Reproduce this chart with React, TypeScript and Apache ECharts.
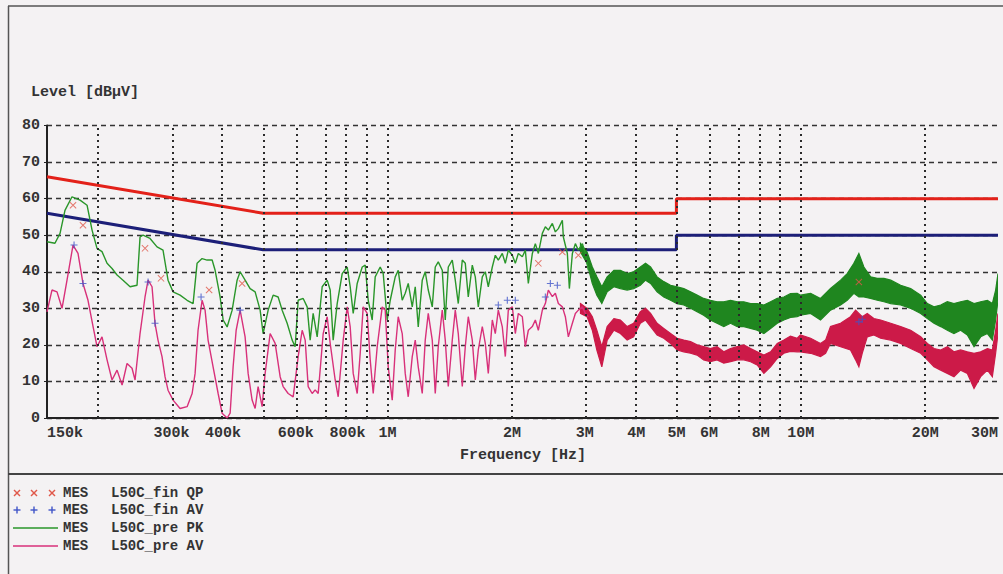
import React, { useEffect, useRef } from 'react';
import * as echarts from 'echarts';

// ---------- data (frequencies in kHz, levels in dBµV) ----------
const TICK_FREQS = [150, 300, 400, 600, 800, 1000, 2000, 3000, 4000, 5000, 6000, 8000, 10000, 20000, 30000];
const TICK_LABELS = ['150k', '300k', '400k', '600k', '800k', '1M', '2M', '3M', '4M', '5M', '6M', '8M', '10M', '20M', '30M'];
const GRID_FREQS = [200, 300, 400, 500, 600, 700, 800, 900, 1000, 2000, 3000, 4000, 5000, 6000, 7000, 8000, 9000, 10000, 20000, 30000];

const LIMIT_QP = [[150, 66], [500, 56], [5000, 56], [5000, 60], [30000, 60]];
const LIMIT_AV = [[150, 56], [500, 46], [5000, 46], [5000, 50], [30000, 50]];

const PK_PRE = [
  [150, 48.2], [156.8, 47.8], [161.3, 50.5], [165.8, 56.8], [172.4, 60.5], [180.3, 59.6], [187.5, 58.2], [192.8, 51.4],
  [198.2, 46.4], [203.8, 45.5], [209.6, 42.3], [215.5, 40.9], [221.6, 39.1], [229.1, 37.7], [238.3, 35.9], [247.7, 36.3],
  [251.9, 49.5], [256.1, 50.0], [266.3, 49.1], [276.9, 46.8], [286.3, 45.9], [294.4, 37.7], [302.8, 34.5], [314.8, 33.6],
  [327.4, 32.2], [338.5, 31.3], [346.1, 42.3], [355.9, 43.6], [366.0, 43.2], [376.4, 43.2], [382.7, 40.4], [393.5, 33.1],
  [400.2, 26.8], [409.2, 24.9], [420.8, 29.5], [432.6, 37.7], [439.9, 40.0], [452.3, 37.7], [465.1, 35.4], [478.3, 34.5],
  [491.8, 29.5], [500.1, 23.1], [514.3, 29.5], [528.8, 33.6], [543.7, 33.1], [556.0, 29.5], [571.7, 25.9], [587.9, 21.3],
  [597.8, 19.5], [607.9, 32.2], [625.1, 32.7], [639.1, 30.4], [649.9, 21.3], [660.8, 28.6], [675.8, 22.2], [694.9, 35.9],
  [714.5, 37.7], [726.6, 35.0], [738.8, 21.3], [755.5, 31.3], [776.9, 39.5], [798.8, 41.3], [812.3, 35.9], [826.0, 28.6],
  [844.6, 36.8], [868.5, 41.3], [883.1, 41.8], [898.0, 32.2], [918.2, 26.8], [933.7, 38.6], [960.1, 41.3], [976.3, 39.5],
  [998.4, 26.8], [1015.3, 32.2], [1043.9, 38.6], [1061.5, 40.4], [1085.4, 32.2], [1103.7, 34.1], [1122.3, 36.8], [1147.7, 30.4],
  [1167.0, 35.9], [1186.7, 24.9], [1213.5, 37.7], [1233.9, 40.0], [1254.8, 35.0], [1283.1, 30.4], [1304.7, 41.3], [1326.7, 42.7],
  [1356.6, 40.4], [1379.5, 26.8], [1402.8, 41.3], [1434.5, 43.2], [1458.6, 37.7], [1483.2, 31.3], [1516.7, 43.2], [1542.3, 42.3],
  [1568.2, 33.1], [1603.6, 41.8], [1630.6, 38.6], [1658.2, 30.4], [1695.6, 38.6], [1724.2, 40.0], [1753.2, 35.9], [1792.8, 41.3],
  [1823.0, 44.5], [1853.8, 43.2], [1895.6, 45.0], [1927.6, 42.3], [1960.1, 45.9], [2004.3, 44.5], [2038.1, 42.3], [2072.5, 45.0],
  [2119.3, 44.1], [2155.0, 45.9], [2191.4, 36.8], [2240.8, 45.0], [2278.6, 47.7], [2317.0, 45.0], [2369.2, 50.5], [2409.2, 52.3],
  [2449.8, 51.4], [2505.1, 53.2], [2547.3, 50.9], [2590.3, 51.8], [2648.7, 54.1], [2663.5, 49.5], [2723.6, 45.0], [2754.1, 35.4],
  [2800.6, 45.0], [2847.8, 47.7], [2895.9, 45.9], [2961.3, 47.7], [3011.2, 45.0], [3061.9, 40.4],
];

const AV_PRE = [
  [150, 29.0], [154.2, 35.0], [158.6, 34.5], [163.1, 30.0], [167.7, 37.7], [173.4, 47.3], [178.3, 45.0], [183.3, 36.8],
  [188.5, 32.2], [193.9, 25.0], [198.2, 19.5], [203.8, 22.2], [209.6, 15.9], [215.5, 10.4], [221.6, 13.1], [227.9, 9.0],
  [234.3, 14.9], [240.9, 13.6], [245.0, 10.4], [251.9, 23.1], [259.0, 33.1], [263.4, 37.7], [269.3, 35.9], [273.8, 25.9],
  [278.4, 21.3], [284.7, 16.8], [289.5, 11.3], [294.4, 7.6], [302.8, 4.9], [314.8, 2.6], [327.4, 3.1], [336.7, 6.7],
  [342.3, 12.2], [348.0, 24.0], [355.9, 32.2], [361.9, 29.5], [368.0, 21.3], [378.4, 14.0], [389.2, 6.7], [397.9, 1.3],
  [409.2, 0], [416.1, 1.3], [423.1, 14.0], [430.3, 24.0], [439.9, 29.5], [452.3, 22.2], [460.0, 12.2], [470.3, 4.9],
  [478.3, 2.6], [486.3, 8.6], [497.3, 3.1], [505.7, 12.2], [520.0, 23.1], [534.7, 20.4], [549.8, 11.3], [559.1, 8.6],
  [574.9, 6.7], [591.2, 5.8], [607.9, 16.8], [621.6, 24.0], [632.1, 21.3], [642.7, 8.6], [657.2, 6.7], [668.2, 7.7],
  [679.6, 6.7], [698.8, 23.1], [714.5, 27.7], [726.6, 20.4], [747.1, 10.4], [759.7, 5.8], [781.2, 21.3], [798.8, 30.4],
  [812.3, 24.9], [826.0, 12.2], [844.6, 6.7], [858.9, 17.7], [873.3, 30.4], [893.0, 28.6], [908.1, 15.9], [923.4, 6.7],
  [944.2, 19.5], [970.9, 30.4], [987.3, 29.5], [1004.0, 14.0], [1026.6, 4.9], [1043.9, 18.6], [1061.5, 27.7], [1085.4, 23.1],
  [1103.7, 12.2], [1122.3, 5.8], [1147.7, 16.8], [1167.0, 21.3], [1186.7, 14.0], [1213.5, 6.7], [1233.9, 21.3], [1254.8, 28.6],
  [1283.1, 21.3], [1304.7, 6.7], [1326.7, 19.5], [1356.6, 29.5], [1379.5, 21.3], [1402.8, 8.6], [1434.5, 21.3], [1458.6, 29.5],
  [1483.2, 23.1], [1516.7, 8.6], [1542.3, 19.5], [1568.2, 27.7], [1603.6, 21.3], [1630.6, 10.4], [1658.2, 18.6], [1695.6, 25.0],
  [1724.2, 20.4], [1753.2, 12.2], [1792.8, 26.8], [1823.0, 23.1], [1853.8, 29.5], [1895.6, 24.9], [1927.6, 16.8], [1960.1, 29.5],
  [2004.3, 30.4], [2038.1, 23.1], [2072.5, 28.6], [2119.3, 27.7], [2155.0, 19.5], [2191.4, 24.0], [2240.8, 25.0], [2278.6, 26.8],
  [2317.0, 24.0], [2369.2, 29.5], [2409.2, 31.3], [2449.8, 35.0], [2505.1, 33.2], [2547.3, 34.1], [2590.3, 31.3], [2648.7, 30.4],
  [2693.4, 27.7], [2738.8, 22.2], [2800.6, 25.9], [2847.8, 28.6], [2895.9, 29.5], [2961.3, 30.4], [3011.2, 28.6], [3061.9, 27.7],
];

// noisy high-frequency part: [kHz, upper dB, lower dB]
const PK_BAND = [
  [2930, 47.7, 45.4], [3040, 45.4, 42.3], [3130, 41.3, 36.8], [3210, 38.6, 33.6], [3300, 35.9, 31.3], [3400, 38.6, 34.5],
  [3530, 40.4, 35.9], [3660, 40.4, 35.4], [3800, 39.5, 35.0], [3940, 40.0, 35.4], [4090, 41.3, 36.3], [4210, 42.3, 37.7],
  [4330, 41.3, 36.8], [4490, 38.6, 34.5], [4660, 37.3, 33.1], [4840, 36.3, 32.2], [5020, 35.9, 31.3], [5210, 35.4, 30.9],
  [5410, 34.5, 30.0], [5610, 33.6, 29.1], [5820, 32.7, 28.1], [6040, 32.2, 26.8], [6270, 31.8, 25.9], [6510, 31.8, 25.0],
  [6760, 32.2, 25.9], [7020, 31.8, 25.0], [7280, 31.8, 25.0], [7560, 31.3, 24.5], [7840, 31.3, 24.0], [8140, 30.9, 23.1],
  [8450, 31.8, 24.5], [8770, 32.7, 25.9], [9100, 33.1, 26.8], [9440, 34.0, 27.5], [9800, 34.1, 27.7], [9980, 33.6, 28.1],
  [10560, 34.1, 28.6], [11160, 32.7, 26.8], [11800, 35.4, 29.5], [12480, 37.7, 30.9], [12950, 39.5, 32.2], [13440, 42.3, 34.1],
  [13820, 45.0, 33.1], [14210, 41.3, 33.1], [14750, 38.6, 32.7], [15310, 38.2, 32.2], [15890, 38.2, 31.8], [16500, 37.7, 31.3],
  [17440, 36.3, 30.9], [18440, 35.4, 30.0], [19500, 33.6, 28.6], [20240, 31.3, 27.2], [21000, 30.4, 25.9], [21800, 30.9, 25.0],
  [22620, 31.8, 24.0], [23470, 31.3, 23.1], [24360, 31.8, 24.0], [25290, 32.2, 22.7], [26250, 31.3, 19.5], [27240, 31.8, 22.2],
  [28280, 32.2, 23.1], [29070, 31.3, 21.3], [29610, 35.0, 26.8], [30000, 39.5, 32.2],
];

const AV_BAND = [
  [2930, 31.3, 28.6], [3040, 30.0, 27.7], [3130, 27.7, 24.0], [3210, 24.0, 18.6], [3300, 19.5, 14.0], [3400, 25.0, 21.3],
  [3530, 27.2, 24.0], [3660, 26.8, 23.1], [3800, 25.0, 21.3], [3940, 25.9, 22.2], [4090, 29.1, 25.9], [4210, 30.0, 26.8],
  [4330, 28.6, 25.0], [4490, 25.9, 22.7], [4660, 24.5, 21.8], [4840, 23.1, 20.4], [5020, 21.8, 18.6], [5210, 21.3, 18.1],
  [5410, 20.9, 17.7], [5610, 20.0, 17.2], [5820, 19.5, 15.9], [6040, 19.0, 15.4], [6270, 19.5, 15.9], [6510, 18.1, 15.0],
  [6760, 19.0, 15.4], [7020, 19.5, 15.9], [7280, 20.0, 15.9], [7560, 19.0, 15.4], [7840, 18.1, 14.5], [8140, 17.2, 12.2],
  [8450, 18.1, 14.0], [8770, 20.4, 16.3], [9100, 21.3, 17.7], [9440, 22.4, 18.2], [9800, 21.8, 18.1], [9980, 22.7, 18.1],
  [10560, 21.8, 17.7], [11160, 20.4, 16.8], [11480, 21.3, 17.7], [11800, 25.0, 20.4], [12480, 25.9, 19.5], [13190, 27.7, 18.6],
  [13570, 29.5, 15.9], [13820, 28.6, 14.0], [14080, 27.7, 17.7], [14480, 28.6, 22.2], [15020, 27.2, 22.7], [15600, 26.8, 21.8],
  [16500, 25.9, 21.3], [17440, 25.0, 20.4], [18440, 24.0, 19.0], [19500, 22.2, 17.7], [20240, 20.4, 15.9], [21000, 19.0, 14.0],
  [21800, 18.6, 13.1], [22620, 19.5, 12.2], [23470, 18.1, 11.3], [24360, 18.6, 13.1], [25290, 18.1, 12.2], [26250, 17.7, 8.1],
  [27240, 18.1, 11.3], [28280, 19.0, 13.1], [29070, 18.6, 11.3], [29610, 24.0, 17.7], [30000, 28.6, 23.1],
];

const QP_FIN = [
  [173.4, 58.2], [183.3, 52.7], [259.0, 46.4], [283.1, 38.2], [370.1, 35.0], [444.8, 36.8],
  [2317.0, 42.3], [2648.7, 45.4], [2895.9, 44.5], [13820, 37.2],
];
const AV_FIN = [
  [174.4, 47.3], [183.3, 36.8], [263.4, 37.2], [273.8, 25.9], [353.9, 33.1], [439.9, 29.5],
  [1853.8, 30.9], [1949.2, 32.2], [2038.1, 32.2], [2409.2, 33.1], [2477.3, 36.8], [2575.9, 36.3],
  [13820, 26.3], [14080, 27.0],
];

const LEGEND_ROWS = [
  { kind: 'x', color: '#e0584a', name: 'MES', label: 'L50C_fin QP' },
  { kind: '+', color: '#4055c8', name: 'MES', label: 'L50C_fin AV' },
  { kind: 'line', color: '#2a962a', name: 'MES', label: 'L50C_pre PK' },
  { kind: 'line', color: '#d8317a', name: 'MES', label: 'L50C_pre AV' },
];

// ---------- styling ----------
const BG = '#f4f2f3';
const FONT = '"Liberation Mono", "DejaVu Sans Mono", monospace';
const TXT = '#333333';
const GREEN = '#2a962a';
const GREEN_BAND = '#1f861f';
const MAGENTA = '#d8317a';
const MAGENTA_BAND = '#cc1a48';

const lx = (kHz: number) => Math.log10(kHz * 1000);
const toXY = (arr: number[][]) => arr.map(([f, v]) => [lx(f), v]);

const X_SYMBOL = 'path://M0,1L1,0L10,9L9,10Z M9,0L10,1L1,10L0,9Z';
const PLUS_SYMBOL = 'path://M4.2,0h1.6v10h-1.6z M0,4.2h10v1.6h-10z';

function bandSeries(name: string, band: number[][], color: string) {
  return {
    type: 'custom',
    name,
    coordinateSystem: 'cartesian2d',
    clip: true,
    silent: true,
    z: 3,
    data: [[lx(band[0][0]), band[0][1]]],
    renderItem: (_params: any, api: any) => {
      const pts: number[][] = [];
      for (const [f, u] of band) pts.push(api.coord([lx(f), u]));
      for (let i = band.length - 1; i >= 0; i--) pts.push(api.coord([lx(band[i][0]), band[i][2]]));
      return {
        type: 'polygon',
        shape: { points: pts },
        style: { fill: color, stroke: color, lineWidth: 1.2 },
      };
    },
  };
}

function legendGraphics() {
  const els: any[] = [];
  const rowY = [493, 510, 528, 546];
  LEGEND_ROWS.forEach((r, i) => {
    const y = rowY[i];
    if (r.kind === 'line') {
      els.push({ type: 'line', shape: { x1: 13, y1: y, x2: 58, y2: y }, style: { stroke: r.color, lineWidth: 1.6 } });
    } else {
      [17, 34, 52].forEach((cx) => {
        if (r.kind === 'x') {
          els.push({ type: 'line', shape: { x1: cx - 3, y1: y - 3, x2: cx + 3, y2: y + 3 }, style: { stroke: r.color, lineWidth: 1.4 } });
          els.push({ type: 'line', shape: { x1: cx + 3, y1: y - 3, x2: cx - 3, y2: y + 3 }, style: { stroke: r.color, lineWidth: 1.4 } });
        } else {
          els.push({ type: 'line', shape: { x1: cx, y1: y - 3.5, x2: cx, y2: y + 3.5 }, style: { stroke: r.color, lineWidth: 1.4 } });
          els.push({ type: 'line', shape: { x1: cx - 3.5, y1: y, x2: cx + 3.5, y2: y }, style: { stroke: r.color, lineWidth: 1.4 } });
        }
      });
    }
    els.push({ type: 'text', x: 63, y, style: { text: r.name, font: `bold 14px ${FONT}`, fill: TXT, verticalAlign: 'middle' } });
    els.push({ type: 'text', x: 111, y, style: { text: r.label, font: `bold 14px ${FONT}`, fill: TXT, verticalAlign: 'middle' } });
  });
  return els;
}

export default function App() {
  const ref = useRef<HTMLDivElement>(null);
  useEffect(() => {
    document.body.style.margin = '0';
    document.body.style.background = BG;
    const chart = echarts.init(ref.current!, null, { renderer: 'svg' });
    const tickVals = TICK_FREQS.map(lx);
    const option: any = {
      animation: false,
      backgroundColor: BG,
      grid: { left: 47, right: 5, top: 125.5, bottom: 156, containLabel: false, outerBoundsMode: 'none' },
      xAxis: {
        type: 'value',
        min: lx(150),
        max: lx(30000),
        axisLine: { show: true, onZero: false, lineStyle: { color: '#222', width: 2 } },
        axisTick: { show: false },
        splitLine: { show: false },
        axisLabel: {
          customValues: tickVals,
          margin: 8,
          alignMinLabel: 'left',
          alignMaxLabel: 'right',
          color: TXT,
          fontFamily: FONT,
          fontWeight: 'bold',
          fontSize: 15,
          formatter: (v: number) => {
            const i = tickVals.findIndex((t) => Math.abs(t - v) < 1e-6);
            return i >= 0 ? TICK_LABELS[i] : '';
          },
        },
      },
      yAxis: {
        type: 'value',
        min: 0,
        max: 80,
        interval: 10,
        axisLine: { show: true, lineStyle: { color: '#222', width: 2 } },
        axisTick: { show: true, length: 3, lineStyle: { color: '#222' } },
        splitLine: { show: true, lineStyle: { color: '#333', type: [5, 4], width: 1.4 } },
        axisLabel: { margin: 7, color: TXT, fontFamily: FONT, fontWeight: 'bold', fontSize: 15 },
      },
      graphic: [
        { type: 'line', shape: { x1: 8, y1: 6, x2: 1003, y2: 6 }, style: { stroke: '#555', lineWidth: 1.5 } },
        { type: 'line', shape: { x1: 8.5, y1: 6, x2: 8.5, y2: 574 }, style: { stroke: '#555', lineWidth: 1.5 } },
        { type: 'line', shape: { x1: 8, y1: 474, x2: 1003, y2: 474 }, style: { stroke: '#444', lineWidth: 2 } },
        { type: 'text', x: 31, y: 92, style: { text: 'Level [dBµV]', font: `bold 15px ${FONT}`, fill: TXT, verticalAlign: 'middle' } },
        { type: 'text', x: 523, y: 455, style: { text: 'Frequency [Hz]', font: `bold 15px ${FONT}`, fill: TXT, align: 'center', verticalAlign: 'middle' } },
        ...legendGraphics(),
      ],
      series: [
        {
          type: 'line',
          name: 'grid',
          data: [[lx(150), -10]],
          showSymbol: false,
          silent: true,
          lineStyle: { opacity: 0 },
          z: 1,
          markLine: {
            silent: true,
            symbol: ['none', 'none'],
            label: { show: false },
            lineStyle: { type: [2, 4], width: 2, color: '#2a2a2a' },
            data: GRID_FREQS.map((f) => ({ xAxis: lx(f) })),
          },
        },
        { type: 'line', name: 'Limit QP', data: toXY(LIMIT_QP), showSymbol: false, z: 2, lineStyle: { color: '#e32119', width: 3 } },
        { type: 'line', name: 'Limit AV', data: toXY(LIMIT_AV), showSymbol: false, z: 2, lineStyle: { color: '#1c1f78', width: 3 } },
        { type: 'line', name: 'MES L50C_pre PK', data: toXY(PK_PRE), showSymbol: false, z: 3, lineStyle: { color: GREEN, width: 1.4 } },
        bandSeries('MES L50C_pre PK band', PK_BAND, GREEN_BAND),
        { type: 'line', name: 'MES L50C_pre AV', data: toXY(AV_PRE), showSymbol: false, z: 4, lineStyle: { color: MAGENTA, width: 1.4 } },
        { ...bandSeries('MES L50C_pre AV band', AV_BAND, MAGENTA_BAND), z: 4 },
        {
          type: 'scatter', name: 'MES L50C_fin QP', data: toXY(QP_FIN), symbol: X_SYMBOL, symbolSize: 7, z: 6,
          itemStyle: { color: '#e0584a' },
        },
        {
          type: 'scatter', name: 'MES L50C_fin AV', data: toXY(AV_FIN), symbol: PLUS_SYMBOL, symbolSize: 7, z: 6,
          itemStyle: { color: '#4055c8' },
        },
      ],
    };
    chart.setOption(option);
    return () => chart.dispose();
  }, []);
  return <div ref={ref} style={{ width: 1003, height: 574 }} />;
}
